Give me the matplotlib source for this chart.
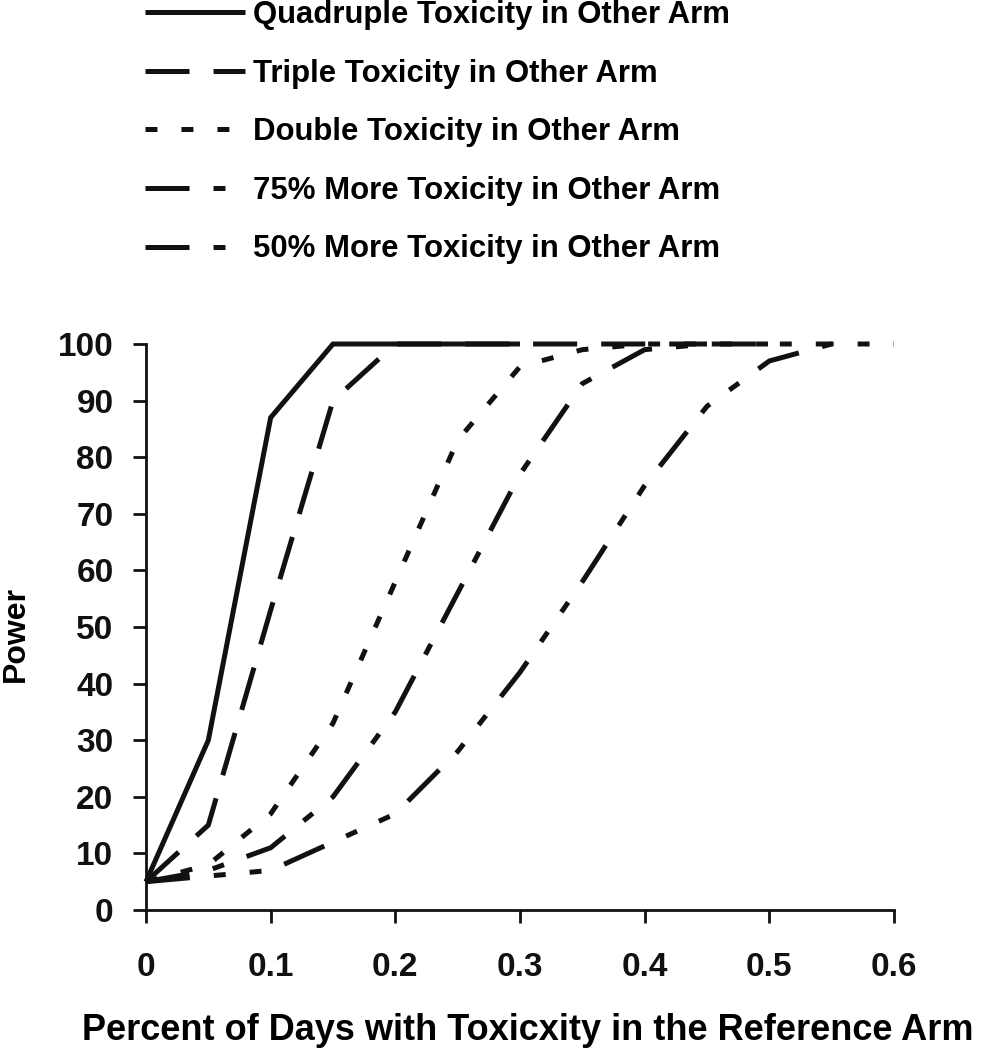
import matplotlib
matplotlib.use("Agg")
import matplotlib.pyplot as plt

plt.rcParams['font.family'] = ['Liberation Sans', 'DejaVu Sans']
plt.rcParams['font.weight'] = 'bold'
plt.rcParams['lines.scale_dashes'] = False

# ---- data ----
x_quad = [0, 0.05, 0.10, 0.15, 0.20, 0.25, 0.30]
y_quad = [5, 30, 87, 100, 100, 100, 100]

x_triple = [0, 0.05, 0.10, 0.15, 0.20, 0.25, 0.30, 0.35, 0.40, 0.45]
y_triple = [5, 15, 53, 90, 100, 100, 100, 100, 100, 100]

x_double = [0, 0.05, 0.10, 0.15, 0.20, 0.25, 0.30, 0.35, 0.40, 0.45, 0.50]
y_double = [5, 8, 17, 33, 58, 83, 96, 99, 100, 100, 100]

x_75 = [0, 0.05, 0.10, 0.15, 0.20, 0.25, 0.30, 0.35, 0.40, 0.45, 0.50, 0.55]
y_75 = [5, 7, 11, 20, 35, 56, 77, 93, 99, 100, 100, 100]

x_50 = [0, 0.05, 0.10, 0.15, 0.20, 0.25, 0.30, 0.35, 0.40, 0.45, 0.50, 0.55, 0.60]
y_50 = [5, 6, 7, 12, 17, 28, 42, 58, 75, 89, 97, 100, 100]

labels = ["Quadruple Toxicity in Other Arm",
          "Triple Toxicity in Other Arm",
          "Double Toxicity in Other Arm",
          "75% More Toxicity in Other Arm",
          "50% More Toxicity in Other Arm"]

xticks = [0, 0.1, 0.2, 0.3, 0.4, 0.5, 0.6]
xticklabels = ["0", "0.1", "0.2", "0.3", "0.4", "0.5", "0.6"]
yticks = list(range(0, 101, 10))

# ---- styles (points) ----
L, S, G = 31.7, 8.6, 17.3
styles = [
    '-',
    (0, (L, G)),
    (0, (S, G)),
    (0, (L, G, S, G)),
    (0, (L, G, S, G, S, G)),
]

W, H = 991, 1050
fig = plt.figure(figsize=(W / 100, H / 100), dpi=100)
ax = fig.add_axes([146 / W, 1 - 910 / H, (894 - 146) / W, (910 - 344) / H])

color = '#111111'
lw = 3.6
series = [(x_quad, y_quad), (x_triple, y_triple), (x_double, y_double),
          (x_75, y_75), (x_50, y_50)]
handles = []
for (xs, ys), ls, lab in zip(series, styles, labels):
    h, = ax.plot(xs, ys, linestyle=ls, color=color, lw=lw,
                 dash_capstyle='butt', solid_capstyle='butt',
                 solid_joinstyle='miter', dash_joinstyle='miter',
                 label=lab, clip_on=False)
    handles.append(h)

ax.set_xlim(0, 0.6)
ax.set_ylim(0, 100)
ax.set_xticks(xticks)
ax.set_xticklabels(xticklabels)
ax.set_yticks(yticks)
for s in ['top', 'right']:
    ax.spines[s].set_visible(False)
for s in ['left', 'bottom']:
    ax.spines[s].set_linewidth(2.0)
    ax.spines[s].set_color(color)
ax.tick_params(axis='both', direction='out', length=9.4, width=2.0,
               colors=color, labelsize=24)
ax.tick_params(axis='y', pad=14)
ax.tick_params(axis='x', pad=21)
for t in ax.get_xticklabels() + ax.get_yticklabels():
    t.set_fontweight('bold')

ax.set_xlabel("Percent of Days with Toxicxity in the Reference Arm",
              fontsize=26, fontweight='bold')
ax.xaxis.label.set_va('baseline')
ax.xaxis.set_label_coords((528 - 146) / 748, (910 - 1040) / 566)

ax.set_ylabel("Power", fontsize=23, fontweight='bold')
ax.yaxis.label.set_va('center')
ax.yaxis.set_label_coords((16 - 146) / 748, (910 - 634) / 566)

leg = fig.legend(handles=handles, labels=labels, loc='upper left',
                 bbox_to_anchor=(145 / W, 1 - 0 / H), frameon=False,
                 fontsize=22.4, handlelength=3.21, handletextpad=0.257,
                 labelspacing=0.92, borderpad=0, borderaxespad=0)
for t in leg.get_texts():
    t.set_fontweight('bold')

fig.savefig("out.png", dpi=100)
